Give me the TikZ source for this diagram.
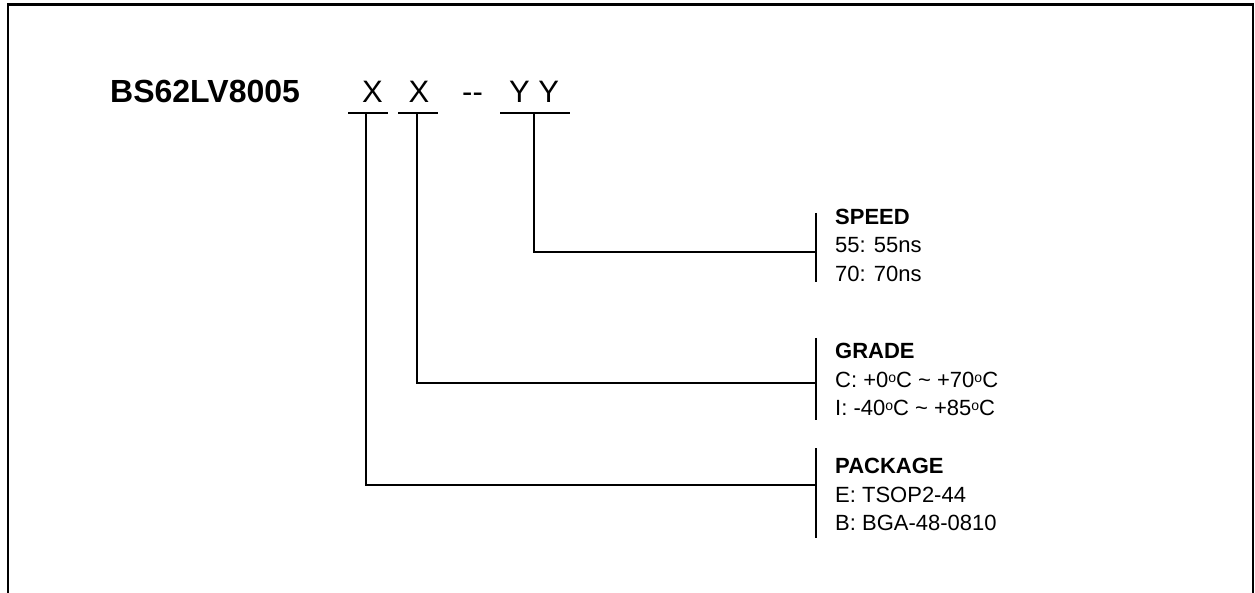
\documentclass[tikz,border=0pt]{standalone}
\usepackage{fontspec}
\setmainfont{Liberation Sans}
\usetikzlibrary{positioning}
\newcommand{\degsign}{\raisebox{5pt}{\fontsize{14}{14}\selectfont o}}
\begin{document}
\begin{tikzpicture}[x=1pt,y=-1pt,
    every node/.style={inner sep=0pt},
    code/.style={anchor=base,font=\fontsize{31}{31}\selectfont},
    head/.style={anchor=base west,font=\fontsize{22}{22}\selectfont\bfseries},
    opt/.style={anchor=base west,font=\fontsize{22}{22}\selectfont},
    wire/.style={line width=2pt},
    frame/.style={line width=2.6pt}]
    \useasboundingbox (0,0) rectangle (1255,593);

    %frame, open at the bottom
    \draw[frame] (7.8,593) |- (1253,4.7) -- (1253,593);

    %part number
    \node[code,anchor=base west,font=\fontsize{32}{32}\selectfont\bfseries] (part) at (110,103) {BS62LV8005};
    \node[code] (pkgx) at (372.5,103) {X};
    \node[code] (gradex) at (419,103) {X};
    \node[code] (sep) at (472.5,103) {-{}-};
    \node[code] (speedy) at (534,103) {Y Y};

    %underlines
    \draw[wire] (348,113) -- (388,113);
    \draw[wire] (398,113) -- (438,113);
    \draw[wire] (500,113) -- (570,113);

    %taps and bars
    \coordinate (speedtap) at (534,113);
    \coordinate (gradetap) at (417,113);
    \coordinate (pkgtap) at (366,113);
    \coordinate (speedbar) at (816,252);
    \coordinate (gradebar) at (816,383);
    \coordinate (pkgbar) at (816,485);

    \draw[wire] (speedtap) |- (speedbar);
    \draw[wire] (gradetap) |- (gradebar);
    \draw[wire] (pkgtap) |- (pkgbar);

    \draw[wire] (816,213) -- (816,282);
    \draw[wire] (816,338) -- (816,420);
    \draw[wire] (816,448) -- (816,538);

    %speed
    \node[head] (speed) at (835,225) {SPEED};
    \node[opt] (speed55) at (835,253) {55: 55ns};
    \node[opt] (speed70) at (835,282) {70: 70ns};

    %grade
    \node[head] (grade) at (835,359) {GRADE};
    \node[opt] (gradec) at (835,387) {C: +0\degsign C \textasciitilde{} +70\degsign C};
    \node[opt] (gradei) at (835,415) {I: -40\degsign C \textasciitilde{} +85\degsign C};

    %package
    \node[head] (package) at (835,473) {PACKAGE};
    \node[opt] (pkge) at (835,502) {E: TSOP2-44};
    \node[opt] (pkgb) at (835,530) {B: BGA-48-0810};
\end{tikzpicture}
\end{document}
